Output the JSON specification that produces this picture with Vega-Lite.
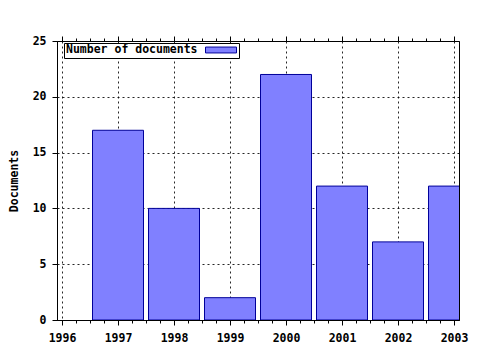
{
  "$schema": "https://vega.github.io/schema/vega-lite/v6.json",
  "width": 402,
  "height": 279,
  "autosize": "none",
  "padding": {"left": 57, "top": 41, "right": 21, "bottom": 30},
  "background": "white",
  "config": {
    "view": {"stroke": "black", "strokeWidth": 1},
    "font": "DejaVu Sans Mono"
  },
  "data": {
    "values": [
      {"year": 1997, "documents": 17},
      {"year": 1998, "documents": 10},
      {"year": 1999, "documents": 2},
      {"year": 2000, "documents": 22},
      {"year": 2001, "documents": 12},
      {"year": 2002, "documents": 7},
      {"year": 2003, "documents": 12}
    ]
  },
  "layer": [
    {
      "mark": {"type": "bar", "size": 51, "clip": true, "stroke": "#000099", "strokeWidth": 1, "opacity": 1},
      "encoding": {
        "x": {
          "field": "year", "type": "quantitative",
          "scale": {"domain": [1996, 2003], "nice": false, "zero": false},
          "axis": {
            "orient": "bottom",
            "values": [1996, 1996.25, 1996.5, 1996.75, 1997, 1997.25, 1997.5, 1997.75, 1998, 1998.25, 1998.5, 1998.75, 1999, 1999.25, 1999.5, 1999.75, 2000, 2000.25, 2000.5, 2000.75, 2001, 2001.25, 2001.5, 2001.75, 2002, 2002.25, 2002.5, 2002.75, 2003],
            "labelExpr": "datum.value % 1 === 0 ? format(datum.value, 'd') : ''",
            "tickSize": {"condition": {"test": "datum.value % 1 === 0", "value": 5}, "value": 3},
            "grid": true,
            "gridDash": [2, 3],
            "gridColor": "black",
            "gridOpacity": {"condition": {"test": "datum.value % 1 === 0", "value": 0.85}, "value": 0},
            "domainColor": "black",
            "tickColor": "black",
            "labelFont": "DejaVu Sans Mono",
            "labelFontWeight": "bold",
            "labelFontSize": 11.5,
            "labelColor": "black",
            "labelPadding": 7,
            "labelFlush": false,
            "labelOverlap": false,
            "title": null
          }
        },
        "y": {
          "field": "documents", "type": "quantitative",
          "scale": {"domain": [0, 25], "nice": false},
          "axis": {
            "values": [0, 5, 10, 15, 20, 25],
            "grid": true,
            "gridDash": [2, 3],
            "gridColor": "black",
            "gridOpacity": 0.85,
            "domainColor": "black",
            "tickColor": "black",
            "tickSize": 5,
            "labelFont": "DejaVu Sans Mono",
            "labelFontWeight": "bold",
            "labelFontSize": 11.5,
            "labelColor": "black",
            "labelPadding": 6,
            "title": "Documents",
            "titleFont": "DejaVu Sans Mono",
            "titleFontWeight": "bold",
            "titleFontSize": 11.5,
            "titleColor": "black",
            "titlePadding": 13
          }
        },
        "color": {
          "datum": "Number of documents", "type": "nominal",
          "scale": {"range": ["#8080ff"]},
          "legend": {
            "orient": "none",
            "legendX": 7,
            "legendY": 2,
            "title": "Number of documents",
            "titleOrient": "left",
            "titleFont": "DejaVu Sans Mono",
            "titleFontWeight": "bold",
            "titleFontSize": 11.5,
            "titleColor": "black",
            "titlePadding": 7,
            "labelExpr": "''",
            "labelOffset": 0,
            "symbolType": "M-1,-0.19H1V0.19H-1Z",
            "symbolSize": 961,
            "symbolStrokeColor": "#000099",
            "symbolStrokeWidth": 1,
            "symbolOpacity": 1,
            "clipHeight": 10,
            "strokeColor": "black",
            "padding": 2,
            "fillColor": "white"
          }
        }
      }
    },
    {
      "mark": {"type": "point", "opacity": 0},
      "encoding": {
        "x": {
          "field": "year", "type": "quantitative",
          "axis": {
            "orient": "top",
            "values": [1996, 1996.25, 1996.5, 1996.75, 1997, 1997.25, 1997.5, 1997.75, 1998, 1998.25, 1998.5, 1998.75, 1999, 1999.25, 1999.5, 1999.75, 2000, 2000.25, 2000.5, 2000.75, 2001, 2001.25, 2001.5, 2001.75, 2002, 2002.25, 2002.5, 2002.75, 2003],
            "labels": false,
            "tickSize": {"condition": {"test": "datum.value % 1 === 0", "value": 5}, "value": 3},
            "tickColor": "black",
            "domain": false,
            "grid": false,
            "title": null
          }
        },
        "y": {"field": "documents", "type": "quantitative"}
      }
    }
  ],
  "resolve": {"axis": {"x": "independent"}}
}
